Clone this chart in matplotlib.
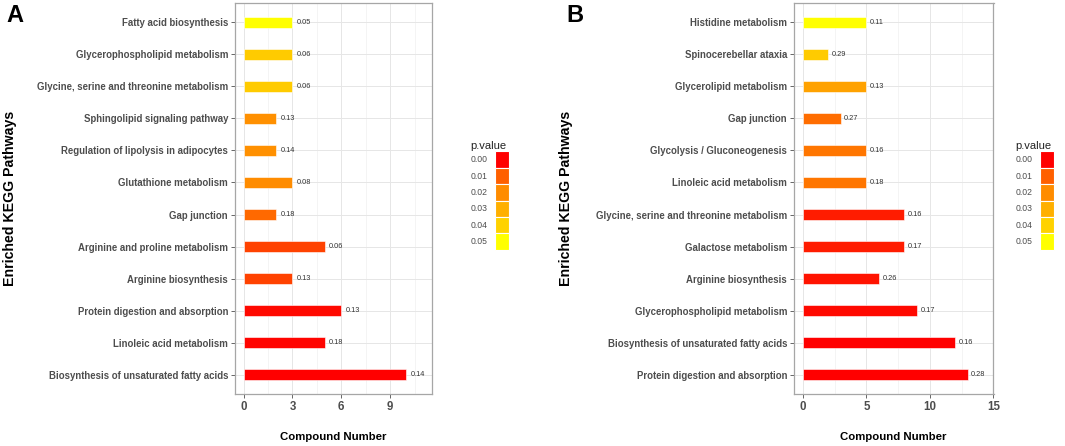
import matplotlib
matplotlib.use("Agg")
import matplotlib.pyplot as plt
from matplotlib.colors import LinearSegmentedColormap, Normalize
from matplotlib.patches import Patch
from matplotlib.ticker import MultipleLocator

plt.rcParams["font.family"] = ["Liberation Sans", "DejaVu Sans"]

# panel A (bottom to top as drawn)
a_paths = ["Biosynthesis of unsaturated fatty acids", "Linoleic acid metabolism",
           "Protein digestion and absorption", "Arginine biosynthesis",
           "Arginine and proline metabolism", "Gap junction", "Glutathione metabolism",
           "Regulation of lipolysis in adipocytes", "Sphingolipid signaling pathway",
           "Glycine, serine and threonine metabolism", "Glycerophospholipid metabolism",
           "Fatty acid biosynthesis"]
a_count = [10, 5, 6, 3, 5, 2, 3, 2, 2, 3, 3, 3]
a_rich = ["0.14", "0.18", "0.13", "0.13", "0.06", "0.18", "0.08", "0.14", "0.13", "0.06", "0.06", "0.05"]
a_pval = [0.0, 0.0005, 0.001, 0.007, 0.007, 0.012, 0.02, 0.021, 0.021, 0.038, 0.038, 0.05]

# panel B
b_paths = ["Protein digestion and absorption", "Biosynthesis of unsaturated fatty acids",
           "Glycerophospholipid metabolism", "Arginine biosynthesis", "Galactose metabolism",
           "Glycine, serine and threonine metabolism", "Linoleic acid metabolism",
           "Glycolysis / Gluconeogenesis", "Gap junction", "Glycerolipid metabolism",
           "Spinocerebellar ataxia", "Histidine metabolism"]
b_count = [13, 12, 9, 6, 8, 8, 5, 5, 3, 5, 2, 5]
b_rich = ["0.28", "0.16", "0.17", "0.26", "0.17", "0.16", "0.18", "0.16", "0.27", "0.13", "0.29", "0.11"]
b_pval = [0.0, 0.0, 0.001, 0.002, 0.003, 0.003, 0.015, 0.015, 0.013, 0.026, 0.038, 0.05]

legend_levels = [0.00, 0.01, 0.02, 0.03, 0.04, 0.05]

cmap = LinearSegmentedColormap.from_list(
    "ry", [(0, "#FF0000"), (0.2, "#FF6000"), (0.4, "#FF8C00"),
           (0.6, "#FFB000"), (0.8, "#FFD200"), (1, "#FFFF00")])
norm = Normalize(0, 0.05)

GRAY = "#4D4D4D"
W, H = 1065, 446


def panel(fig, rect, paths, count, rich, pval, xlim, major, letter, letter_x,
          ylab_x, leg_x):
    ax = fig.add_axes(rect)
    y = range(len(paths))
    ax.barh(y, count, height=0.33, color=[cmap(norm(p)) for p in pval],
            edgecolor="white", linewidth=0.4, zorder=3)
    for yi, c, r in zip(y, count, rich):
        ax.text(c + 0.25, yi, r, fontsize=5.3, va="center", ha="left",
                color="#333333", zorder=4)
    ax.set_yticks(list(y))
    ax.set_yticklabels(paths)
    ax.set_ylim(-0.6, len(paths) - 0.4)
    ax.set_xlim(*xlim)
    ax.xaxis.set_major_locator(MultipleLocator(major))
    ax.xaxis.set_minor_locator(MultipleLocator(major / 2))
    ax.grid(which="major", color="#E6E6E6", lw=0.7, zorder=0)
    ax.grid(which="minor", axis="x", color="#F0F0F0", lw=0.5, zorder=0)
    ax.tick_params(axis="y", which="major", length=3, width=0.6, color=GRAY,
                   labelcolor=GRAY, labelsize=6.9, pad=2)
    ax.tick_params(axis="x", which="major", length=3, width=0.6, color=GRAY,
                   labelcolor=GRAY, labelsize=8.3, pad=2)
    ax.tick_params(axis="x", which="minor", length=0)
    for lab in ax.get_xticklabels() + ax.get_yticklabels():
        lab.set_fontweight("bold")
    for s in ax.spines.values():
        s.set_color("#A6A6A6")
        s.set_linewidth(0.9)
    ax.set_axisbelow(True)

    cy = rect[1] + rect[3] / 2
    cx = rect[0] + rect[2] / 2
    fig.text(ylab_x / W, cy, "Enriched KEGG Pathways", rotation=90, ha="center",
             va="center", fontsize=10.2, fontweight="bold")
    fig.text(cx, 1 - 437 / H, "Compound Number", ha="center", va="center",
             fontsize=8.2, fontweight="bold")
    fig.text(letter_x / W, 1 - 16 / H, letter, ha="left", va="center",
             fontsize=17, fontweight="bold")

    handles = [Patch(facecolor=cmap(norm(v)), edgecolor="white", linewidth=0.8)
               for v in legend_levels]
    leg = fig.legend(handles, [f"{v:.2f}" for v in legend_levels], title="p.value",
                     loc="upper left", bbox_to_anchor=(leg_x / W, 1 - 138 / H),
                     markerfirst=False, frameon=False, fontsize=6.2,
                     title_fontsize=8.0, handlelength=1.6, handleheight=2.55,
                     labelspacing=0.0, handletextpad=0.9, borderaxespad=0)
    leg._legend_box.align = "left"
    for t in leg.get_texts():
        t.set_color(GRAY)
    leg.get_title().set_color("#222222")
    return ax


fig = plt.figure(figsize=(W / 100, H / 100), dpi=100)
panel(fig, [235 / W, 52 / H, 197 / W, 391 / H], a_paths, a_count, a_rich, a_pval,
      (-0.53, 11.57), 3, "A", 6, 10, 467)
panel(fig, [794 / W, 52 / H, 199.5 / W, 391 / H], b_paths, b_count, b_rich, b_pval,
      (-0.7, 15.01), 5, "B", 566, 566, 1012)
fig.savefig("out.png", dpi=100)
